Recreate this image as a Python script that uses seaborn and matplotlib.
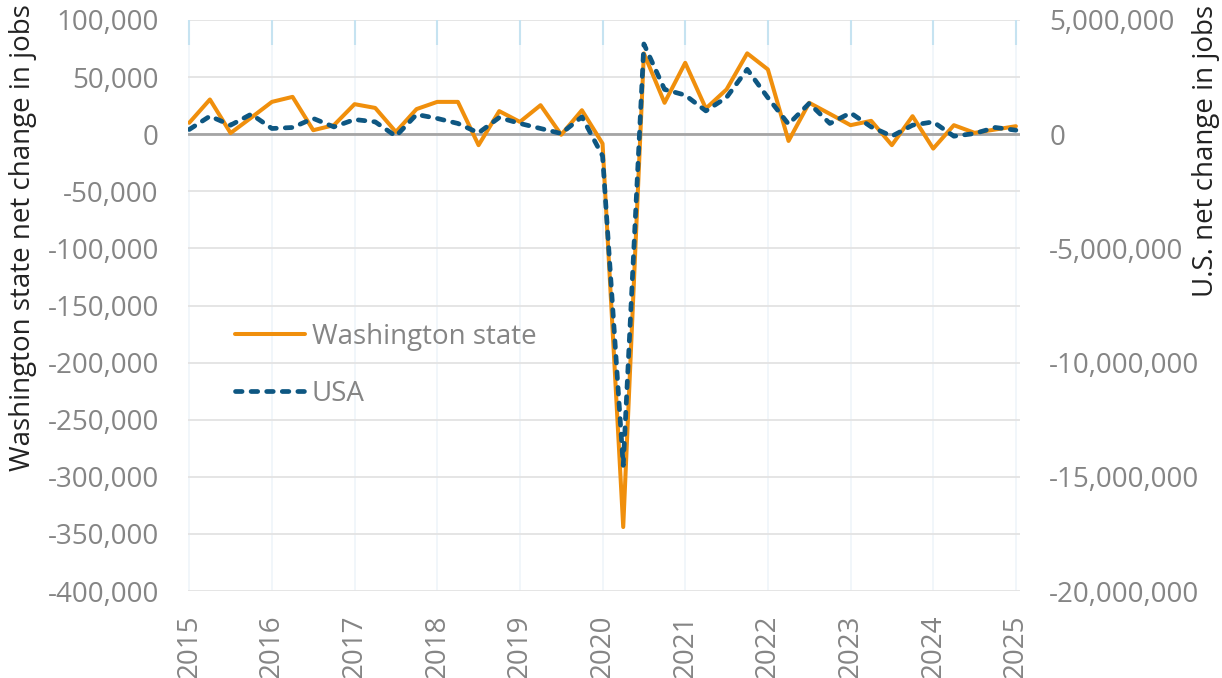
import numpy as np
import pandas as pd
import matplotlib
matplotlib.use("Agg")
import matplotlib.pyplot as plt
import seaborn as sns
from matplotlib.ticker import FuncFormatter

# quarterly net change in jobs, 2015 Q1 .. 2025 Q1
quarters = [y + q / 4 for y in range(2015, 2025) for q in range(4)] + [2025.0]

wa_change = [
    10000, 30400, 1000, 14500,
    28300, 32700, 3500, 7900,
    26300, 23000, 2000, 22000,
    28300, 28300, -9600, 20200,
    10800, 25400, -500, 21000,
    -8200, -344000, 70800, 27500,
    62500, 22500, 39200, 70800,
    56700, -5900, 27500, 17800,
    7900, 11700, -9600, 15800,
    -12600, 7900, 1200, 4100,
    7000,
]

us_change = [
    206000, 790000, 395000, 877000,
    250000, 294000, 690000, 320000,
    643000, 540000, -88000, 864000,
    690000, 470000, 57000, 730000,
    470000, 250000, 30000, 760000,
    -950000, -14500000, 3950000, 1960000,
    1710000, 1020000, 1610000, 2840000,
    1600000, 439000, 1350000, 470000,
    935000, 320000, -88000, 395000,
    540000, -88000, 30000, 294000,
    175000,
]

years = list(range(2015, 2026))
left_ticks = list(range(-400000, 100001, 50000))
right_ticks = list(range(-20000000, 5000001, 5000000))

df = pd.DataFrame({"quarter": quarters, "wa": wa_change, "us": us_change})

sns.set_theme(style="white")
plt.rcParams["font.family"] = ["Open Sans", "DejaVu Sans"]

orange = "#f08f0c"
blue = "#0e5782"
tick_grey = "#858585"
tick_blue = "#c6e3f1"
fs = 20

fig = plt.figure(figsize=(12.22, 6.78), dpi=100)
fig.subplots_adjust(left=188 / 1222, right=1020 / 1222, top=1 - 20 / 678, bottom=1 - 591 / 678)
ax = fig.add_subplot(111)
ax2 = ax.twinx()

sns.lineplot(data=df, x="quarter", y="wa", ax=ax, color=orange, linewidth=2.9,
             label="Washington state")
sns.lineplot(data=df, x="quarter", y="us", ax=ax2, color=blue, linewidth=3.4,
             label="USA", linestyle=(0, (1.4, 1.9)), dash_capstyle="round")

ax.set_xlim(2014.985, 2025.05)
ax.set_ylim(-400000, 100000)
ax2.set_ylim(-20000000, 5000000)

fmt = FuncFormatter(lambda v, p: f"{v:,.0f}")
ax.set_yticks(left_ticks)
ax.yaxis.set_major_formatter(fmt)
ax2.set_yticks(right_ticks)
ax2.yaxis.set_major_formatter(fmt)
ax.set_xticks(years)
ax.set_xticklabels([str(y) for y in years], rotation=90)

# grid and zero line
ax.grid(axis="y", color="#e3e3e3", linewidth=1.3)
ax.grid(axis="x", color="#f0f6fa", linewidth=1.3)
ax.axhline(0, color="#a5a5a5", linewidth=2, zorder=1.5)
ax.set_axisbelow(True)

for a in (ax, ax2):
    for s in a.spines.values():
        s.set_visible(False)

ax.tick_params(axis="y", length=0, pad=21, labelsize=fs, labelcolor=tick_grey)
ax2.tick_params(axis="y", length=0, pad=21, labelsize=fs, labelcolor=tick_grey)
ax.tick_params(axis="x", direction="in", length=8, width=1.5, color=tick_blue,
               pad=17, labelsize=fs, labelcolor=tick_grey)

# longer light-blue ticks along the top edge
ax2.xaxis.set_visible(True)
ax2.tick_params(axis="x", top=True, bottom=False, labelbottom=False, labeltop=False,
                direction="in", length=18, width=1.5, color=tick_blue)

ax.set_xlabel("")
ax2.set_xlabel("")
ax.set_ylabel("Washington state net change in jobs", fontsize=fs, color="#222222", loc="top")
ax2.set_ylabel("U.S. net change in jobs", fontsize=fs, color="#222222", loc="top")
ax.yaxis.set_label_coords(-0.182, 1.027)
ax2.yaxis.set_label_coords(1.207, 1.027)

# combined legend
ax.get_legend().remove()
ax2.get_legend().remove()
h1, l1 = ax.get_legend_handles_labels()
h2, l2 = ax2.get_legend_handles_labels()
leg = ax2.legend(h1 + h2, l1 + l2, loc="upper left", bbox_to_anchor=(0.056, 0.469),
                 frameon=False, fontsize=fs, borderpad=0, borderaxespad=0,
                 handlelength=2.52, handletextpad=0.25, labelspacing=1.03)
for t in leg.get_texts():
    t.set_color(tick_grey)

fig.savefig("out.png", dpi=100)
